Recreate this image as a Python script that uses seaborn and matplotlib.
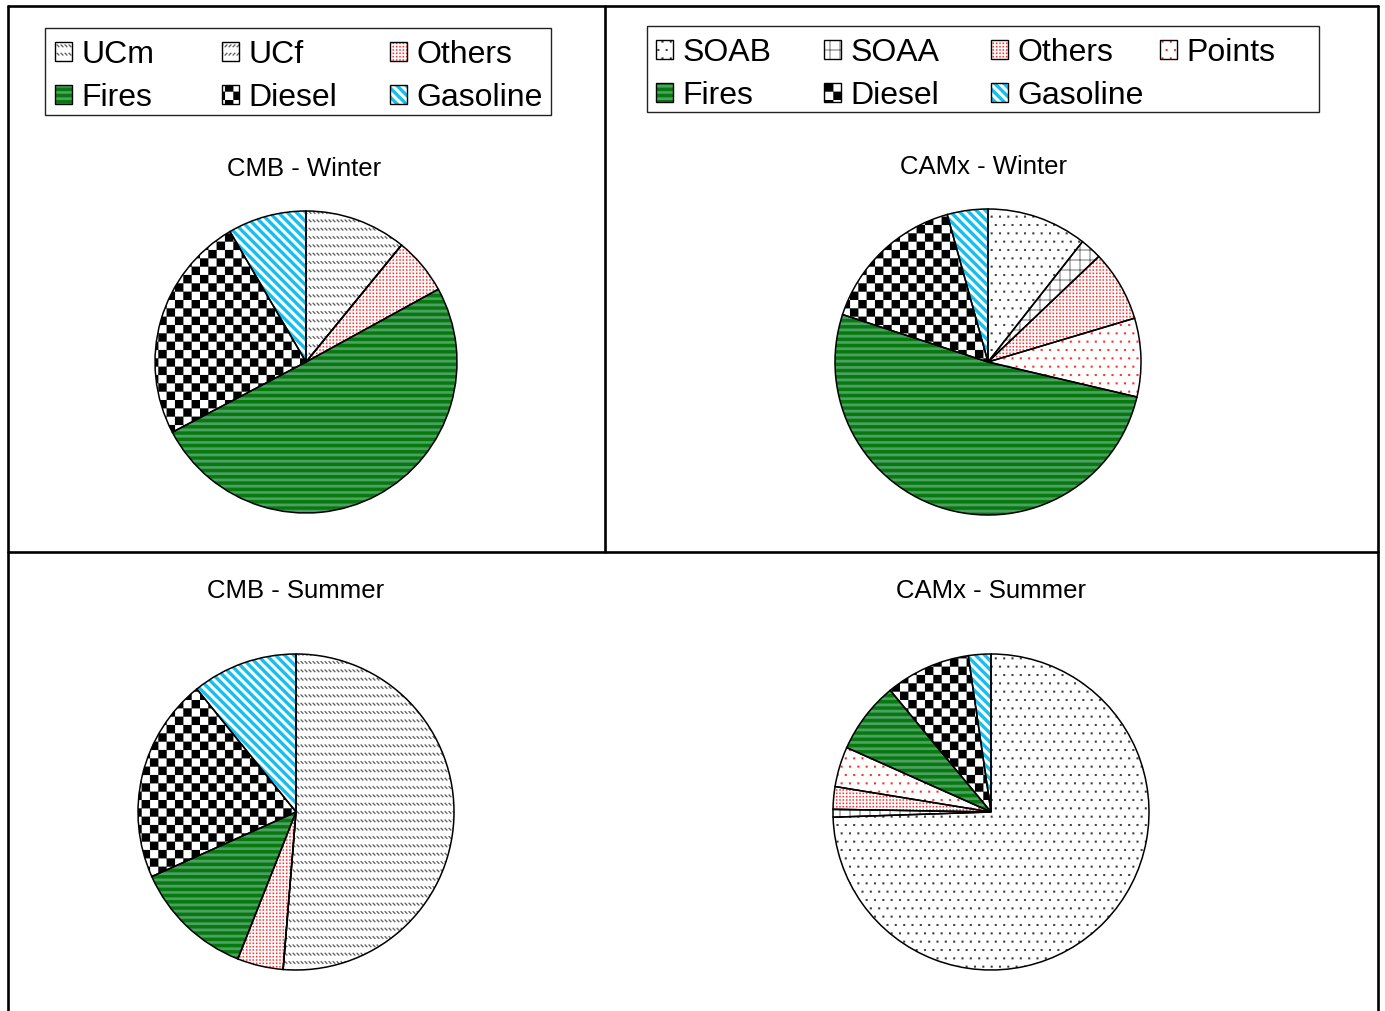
import warnings
warnings.filterwarnings("ignore")
import numpy as np
import matplotlib
matplotlib.use("Agg")
import matplotlib.pyplot as plt
import matplotlib.hatch as mhatch
from matplotlib.path import Path
from matplotlib.patches import Rectangle
from matplotlib.lines import Line2D
import seaborn as sns

# ---------------- data ----------------
cmb_labels = ["UCm", "UCf", "Others", "Fires", "Diesel", "Gasoline"]
cmb_winter = [10.9, 0.0, 6.1, 50.3, 24.3, 8.4]
cmb_summer = [51.3, 0.0, 4.7, 12.3, 20.9, 10.8]

camx_labels = ["SOAB", "SOAA", "Others", "Points", "Fires", "Diesel", "Gasoline"]
camx_winter = [10.6, 2.3, 7.5, 8.3, 51.4, 15.7, 4.3]
camx_summer = [74.4, 0.8, 2.3, 4.1, 7.3, 8.7, 2.3]

titles = ["CMB - Winter", "CAMx - Winter", "CMB - Summer", "CAMx - Summer"]

# legend layout (row-wise in the reference)
cmb_legend_cols = [["UCm", "Fires"], ["UCf", "Diesel"], ["Others", "Gasoline"]]
camx_legend_cols = [["SOAB", "Fires"], ["SOAA", "Diesel"], ["Others", "Gasoline"], ["Points"]]

# ---------------- theme ----------------
sns.set_theme(style="white")
plt.rcParams['font.family'] = ['Liberation Sans', 'DejaVu Sans']
plt.rcParams['text.color'] = 'black'
plt.rcParams['hatch.linewidth'] = 0.1

W, H = 1385, 1011
PX = 1.0 / 100.0  # hatch unit = 100 px


# ---------------- custom hatch patterns ----------------
def _rect(x, y, w, h):
    return np.array([[x, y], [x + w, y], [x + w, y + h], [x, y + h]])


def checker(n):
    s = 1.0 / n
    return [_rect(i * s, j * s, s, s) for i in range(n) for j in range(n) if (i + j) % 2 == 0]


def hbands(n, frac):
    s = 1.0 / n
    return [_rect(-0.05, j * s, 1.1, s * frac) for j in range(n)]


def dbands(n, frac, slope):
    s = 1.0 / n
    w = s * frac
    polys = []
    for k in range(-2 * n - 2, 2 * n + 3):
        c = k * s
        x0, x1 = -0.1, 1.1
        polys.append(np.array([[x0, slope * x0 + c], [x1, slope * x1 + c],
                               [x1, slope * x1 + c + w], [x0, slope * x0 + c + w]]))
    return polys


def dashes(nx, ny, length, thick, slope):
    polys = []
    d = np.array([1.0, slope]) / np.sqrt(2)
    nrm = np.array([-d[1], d[0]])
    a = d * length / 2
    b = nrm * thick / 2
    for j in range(-1, ny + 1):
        for i in range(-1, nx + 1):
            c = np.array([(i + 0.5) / nx, (j + 0.5) / ny])
            polys.append(np.array([c - a - b, c + a - b, c + a + b, c - a + b]))
    return polys


def dot_grid(n, size, stagger=False):
    s = 1.0 / n
    polys = []
    for j in range(-1, n + 2):
        off = s / 2 if (stagger and j % 2) else 0.0
        for i in range(-1, n + 2):
            cx, cy = i * s + off, j * s
            if -size <= cx <= 1 + size and -size <= cy <= 1 + size:
                polys.append(_rect(cx - size / 2, cy - size / 2, size, size))
    return polys


def dotted_grid(n, ndots, size):
    s = 1.0 / n
    t = 1.0 / ndots
    polys = []
    for k in range(n + 1):
        for m in range(ndots + 1):
            polys.append(_rect(k * s - size / 2, m * t - size / 2, size, size))
            polys.append(_rect(m * t - size / 2, k * s - size / 2, size, size))
    return polys


class CustomHatch:
    patterns = {}

    def __init__(self, hatch, density):
        self.polys = []
        for ch, polys in self.patterns.items():
            if ch in hatch:
                self.polys.extend(polys)
        self.num_vertices = sum(len(p) + 1 for p in self.polys)

    def set_vertices_and_codes(self, vertices, codes):
        i = 0
        for p in self.polys:
            n = len(p)
            vertices[i:i + n] = p
            vertices[i + n] = p[0]
            codes[i] = Path.MOVETO
            codes[i + 1:i + n] = Path.LINETO
            codes[i + n] = Path.CLOSEPOLY
            i += n + 1


CustomHatch.patterns = {
    'c': checker(12),
    'f': hbands(16, 0.42),
    'g': dbands(11, 0.5, -1),
    'm': dashes(25, 12, 3.6 * PX, 1.1 * PX, -1),
    'n': dashes(25, 12, 3.6 * PX, 1.1 * PX, +1),
    'r': dot_grid(30, 1.4 * PX),
    'p': dot_grid(12, 1.9 * PX, stagger=True),
    'b': dot_grid(12, 1.9 * PX, stagger=True),
    'a': dotted_grid(10, 50, 1.0 * PX),
}
mhatch._hatch_types.append(CustomHatch)

STYLE = {
    'UCm': ('white', '#585858', 'm'),
    'UCf': ('white', '#585858', 'n'),
    'Others': ('white', '#ff2a2a', 'r'),
    'Points': ('white', '#ff2a2a', 'p'),
    'Fires': ('#067a0a', '#4e9e68', 'f'),
    'Diesel': ('white', 'black', 'c'),
    'Gasoline': ('white', '#12bff0', 'g'),
    'SOAB': ('white', '#3a3a3a', 'b'),
    'SOAA': ('white', '#3a3a3a', 'a'),
}

fig = plt.figure(figsize=(W / 100, H / 100), dpi=100)
fig.patch.set_facecolor('white')


def fx(x):
    return x / W


def fy(y):
    return 1 - y / H


def draw_pie(cx, cy, r, values, labels, title, tx, ty):
    ax = fig.add_axes([fx(cx - r), fy(cy + r), 2 * r / W, 2 * r / H])
    wedges, _ = ax.pie(values, startangle=90, counterclock=False, radius=1,
                       wedgeprops=dict(linewidth=0))
    for w, lab in zip(wedges, labels):
        fc, hc, h = STYLE[lab]
        w.set_facecolor(fc)
        w.set_edgecolor(hc)
        w.set_hatch(h)
        w.set_linewidth(0)
    outlines, _ = ax.pie(values, startangle=90, counterclock=False, radius=1,
                         wedgeprops=dict(facecolor='none', edgecolor='black', linewidth=1.1))
    for w in outlines:
        w.set_clip_on(False)
    ax.set_xlim(-1, 1)
    ax.set_ylim(-1, 1)
    ax.set_aspect('equal')
    ax.axis('off')
    fig.text(fx(tx), fy(ty), title, ha='center', va='center', fontsize=18.5, color='black')


draw_pie(306, 362, 151, cmb_winter, cmb_labels, titles[0], 304, 169)
draw_pie(988, 362, 153, camx_winter, camx_labels, titles[1], 984, 167)
draw_pie(296, 812, 158, cmb_summer, cmb_labels, titles[2], 296, 591)
draw_pie(991, 812, 158, camx_summer, camx_labels, titles[3], 991, 591)


def handle_for(lab):
    fc, hc, h = STYLE[lab]
    a = Rectangle((0, 0), 1, 1, facecolor=fc, edgecolor=hc, hatch=h, linewidth=0)
    b = Rectangle((0, 0), 1, 1, facecolor='none', edgecolor='black', linewidth=1.0)
    return (a, b)


def column_legends(cols, xs, ytop):
    for col, x in zip(cols, xs):
        fig.legend([handle_for(l) for l in col], col, loc='upper left',
                   bbox_to_anchor=(fx(x), fy(ytop)), bbox_transform=fig.transFigure,
                   frameon=False, borderpad=0, borderaxespad=0,
                   handlelength=0.53, handleheight=0.53, handletextpad=0.3,
                   labelspacing=0.41, fontsize=23)


column_legends(cmb_legend_cols, [55, 222, 390], 40)
column_legends(camx_legend_cols, [656, 824, 991, 1160], 38)

# legend frames
for (x0, y0, x1, y1) in [(45, 28, 551, 115), (647, 26, 1319, 112)]:
    fig.add_artist(Rectangle((fx(x0), fy(y1)), (x1 - x0) / W, (y1 - y0) / H,
                             transform=fig.transFigure, fill=False,
                             edgecolor='#222222', linewidth=1.0))

# panel borders
lines = [((8, 6), (1378, 6)), ((8, 6), (8, 1011)), ((1378, 6), (1378, 1011)),
         ((8, 552), (1378, 552)), ((605, 6), (605, 552))]
for (x0, y0), (x1, y1) in lines:
    fig.add_artist(Line2D([fx(x0), fx(x1)], [fy(y0), fy(y1)], transform=fig.transFigure,
                          color='black', linewidth=1.9))

fig.savefig("out.png", dpi=100, facecolor='white')
